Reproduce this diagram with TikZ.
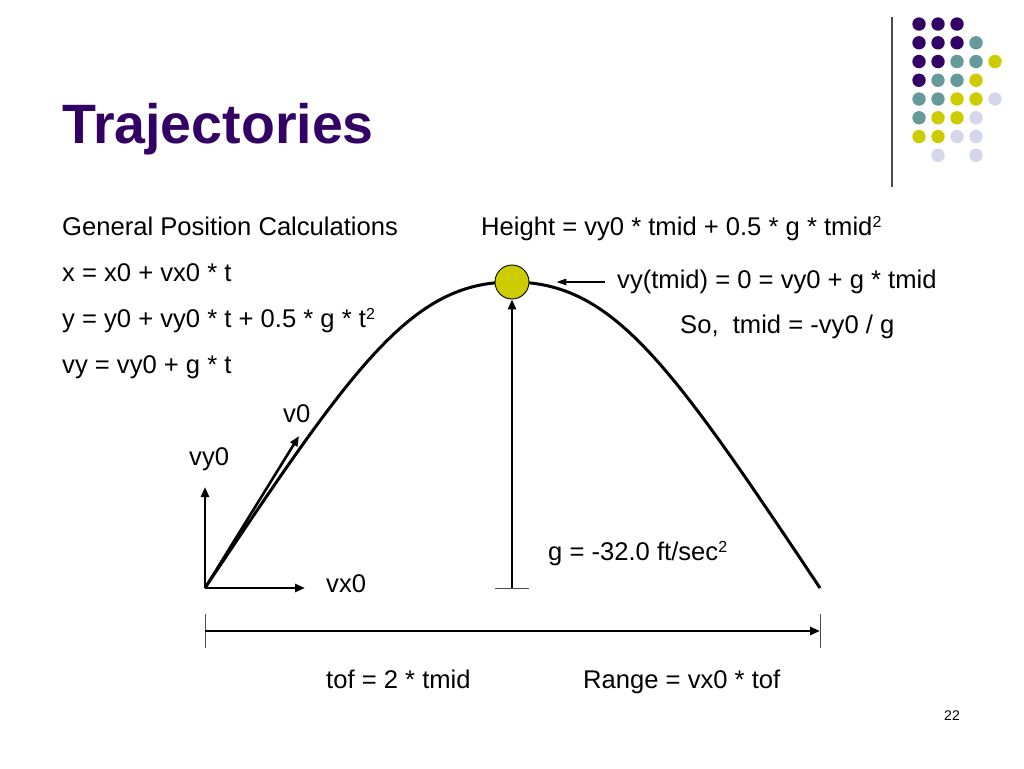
\documentclass[tikz,border=0pt]{standalone}
\usepackage{fontspec}
\setmainfont{Liberation Sans}
\usetikzlibrary{arrows.meta}

\definecolor{deeppurple}{HTML}{330066}
\definecolor{slateteal}{HTML}{669999}
\definecolor{oliveyellow}{HTML}{CCCC00}
\definecolor{palelavender}{HTML}{D6D6EA}

\newcommand{\sqr}{\raisebox{7.5pt}{\fontsize{16}{18}\selectfont 2}}

\begin{document}
\begin{tikzpicture}[x=1pt, y=-1pt,
  txt/.style={anchor=base west, inner sep=0pt, font=\fontsize{25.6}{30}\selectfont},
  vec/.style={-{Triangle[length=10pt, width=8pt]}, line width=2.6pt},
  thinvec/.style={-{Triangle[length=10pt, width=6.5pt]}, line width=1.4pt},
  tickmark/.style={draw=black!70, line width=1pt},
  path/.style={line width=3pt}]

\useasboundingbox (0,0) rectangle (1024,768);

% Title and the rule beside the dot pattern
\node (title) [anchor=base west, inner sep=0pt, text=deeppurple, font=\fontsize{55.5}{60}\selectfont\bfseries] at (62,143) {Trajectories};
\draw[black!70, line width=1.4pt] (892,17) -- (892,187);

% Dot pattern in the top right corner
\foreach \col/\row/\c in {1/1/deeppurple, 2/1/deeppurple, 3/1/deeppurple,
  1/2/deeppurple, 2/2/deeppurple, 3/2/deeppurple, 4/2/slateteal,
  1/3/deeppurple, 2/3/deeppurple, 3/3/slateteal, 4/3/slateteal, 5/3/oliveyellow,
  1/4/deeppurple, 2/4/slateteal, 3/4/slateteal, 4/4/oliveyellow,
  1/5/slateteal, 2/5/slateteal, 3/5/oliveyellow, 4/5/oliveyellow, 5/5/palelavender,
  1/6/slateteal, 2/6/oliveyellow, 3/6/oliveyellow, 4/6/palelavender,
  1/7/oliveyellow, 2/7/oliveyellow, 3/7/palelavender, 4/7/palelavender,
  2/8/palelavender, 4/8/palelavender}
  \fill[\c] ({900+19*\col},{5.3+18.75*\row}) circle (6.7pt);

% General position equations
\node (general) [txt] at (62,235) {General Position Calculations};
\node (xeq) [txt] at (62,281) {x = x0 + vx0 * t};
\node (yeq) [txt] at (62,327) {y = y0 + vy0 * t + 0.5 * g * t\sqr};
\node (vyeq) [txt] at (62,373) {vy = vy0 + g * t};

% Apex equations
\node (height) [txt] at (481,235) {Height = vy0 * tmid + 0.5 * g * tmid\sqr};
\node (vytmid) [txt] at (617,288) {vy(tmid) = 0 = vy0 + g * tmid};
\node (tmid) [txt] at (680,333) {So,\ \ tmid = -vy0 / g};

% Trajectory
\coordinate (launch) at (205,588);
\coordinate (land) at (820,588);
\draw[path] (launch) .. controls (355,363) and (412,282) .. (512,282)
  .. controls (613,282) and (670,363) .. (land);

% Ball at the top of the flight
\node (ball) [circle, draw, fill=oliveyellow, line width=0.9pt, minimum size=34pt, inner sep=0pt] at (512,282) {};

% Launch velocity components
\coordinate (vytip) at (205,487);
\coordinate (vxtip) at (305,588);
\coordinate (vtip) at (299,436);
\node (vlabel) [txt] at (283,422) {v0};
\node (vylabel) [txt] at (189,465) {vy0};
\node (vxlabel) [txt] at (326,592) {vx0};
\draw[vec] (launch) -- (vytip);
\draw[vec] (launch) -- (vxtip);
\draw[vec] (launch) -- (vtip);

% Height of the apex and gravity
\coordinate (groundmark) at (512,588);
\draw[tickmark] ([xshift=-17pt]groundmark) -- ([xshift=17pt]groundmark);
\draw[vec] (groundmark) -- (ball.south);
\node (gravity) [txt] at (548,560) {g = -32.0 ft/sec\sqr};

% Pointer to the apex
\draw[thinvec, shorten <=12pt, shorten >=27pt] (vytmid.west |- ball) -- (ball.east);

% Range
\coordinate (rangestart) at (205,631);
\coordinate (rangeend) at (820,631);
\draw[tickmark] ([yshift=-17pt]rangestart) -- ([yshift=17pt]rangestart);
\draw[tickmark] ([yshift=-17pt]rangeend) -- ([yshift=17pt]rangeend);
\draw[vec] (rangestart) -- (rangeend);
\node (tof) [txt] at (326,688) {tof = 2 * tmid};
\node (range) [txt] at (583,688) {Range = vx0 * tof};

% Slide number
\node (slidenum) [anchor=base west, inner sep=0pt, font=\fontsize{14}{16}\selectfont] at (944,720) {22};

\end{tikzpicture}
\end{document}
